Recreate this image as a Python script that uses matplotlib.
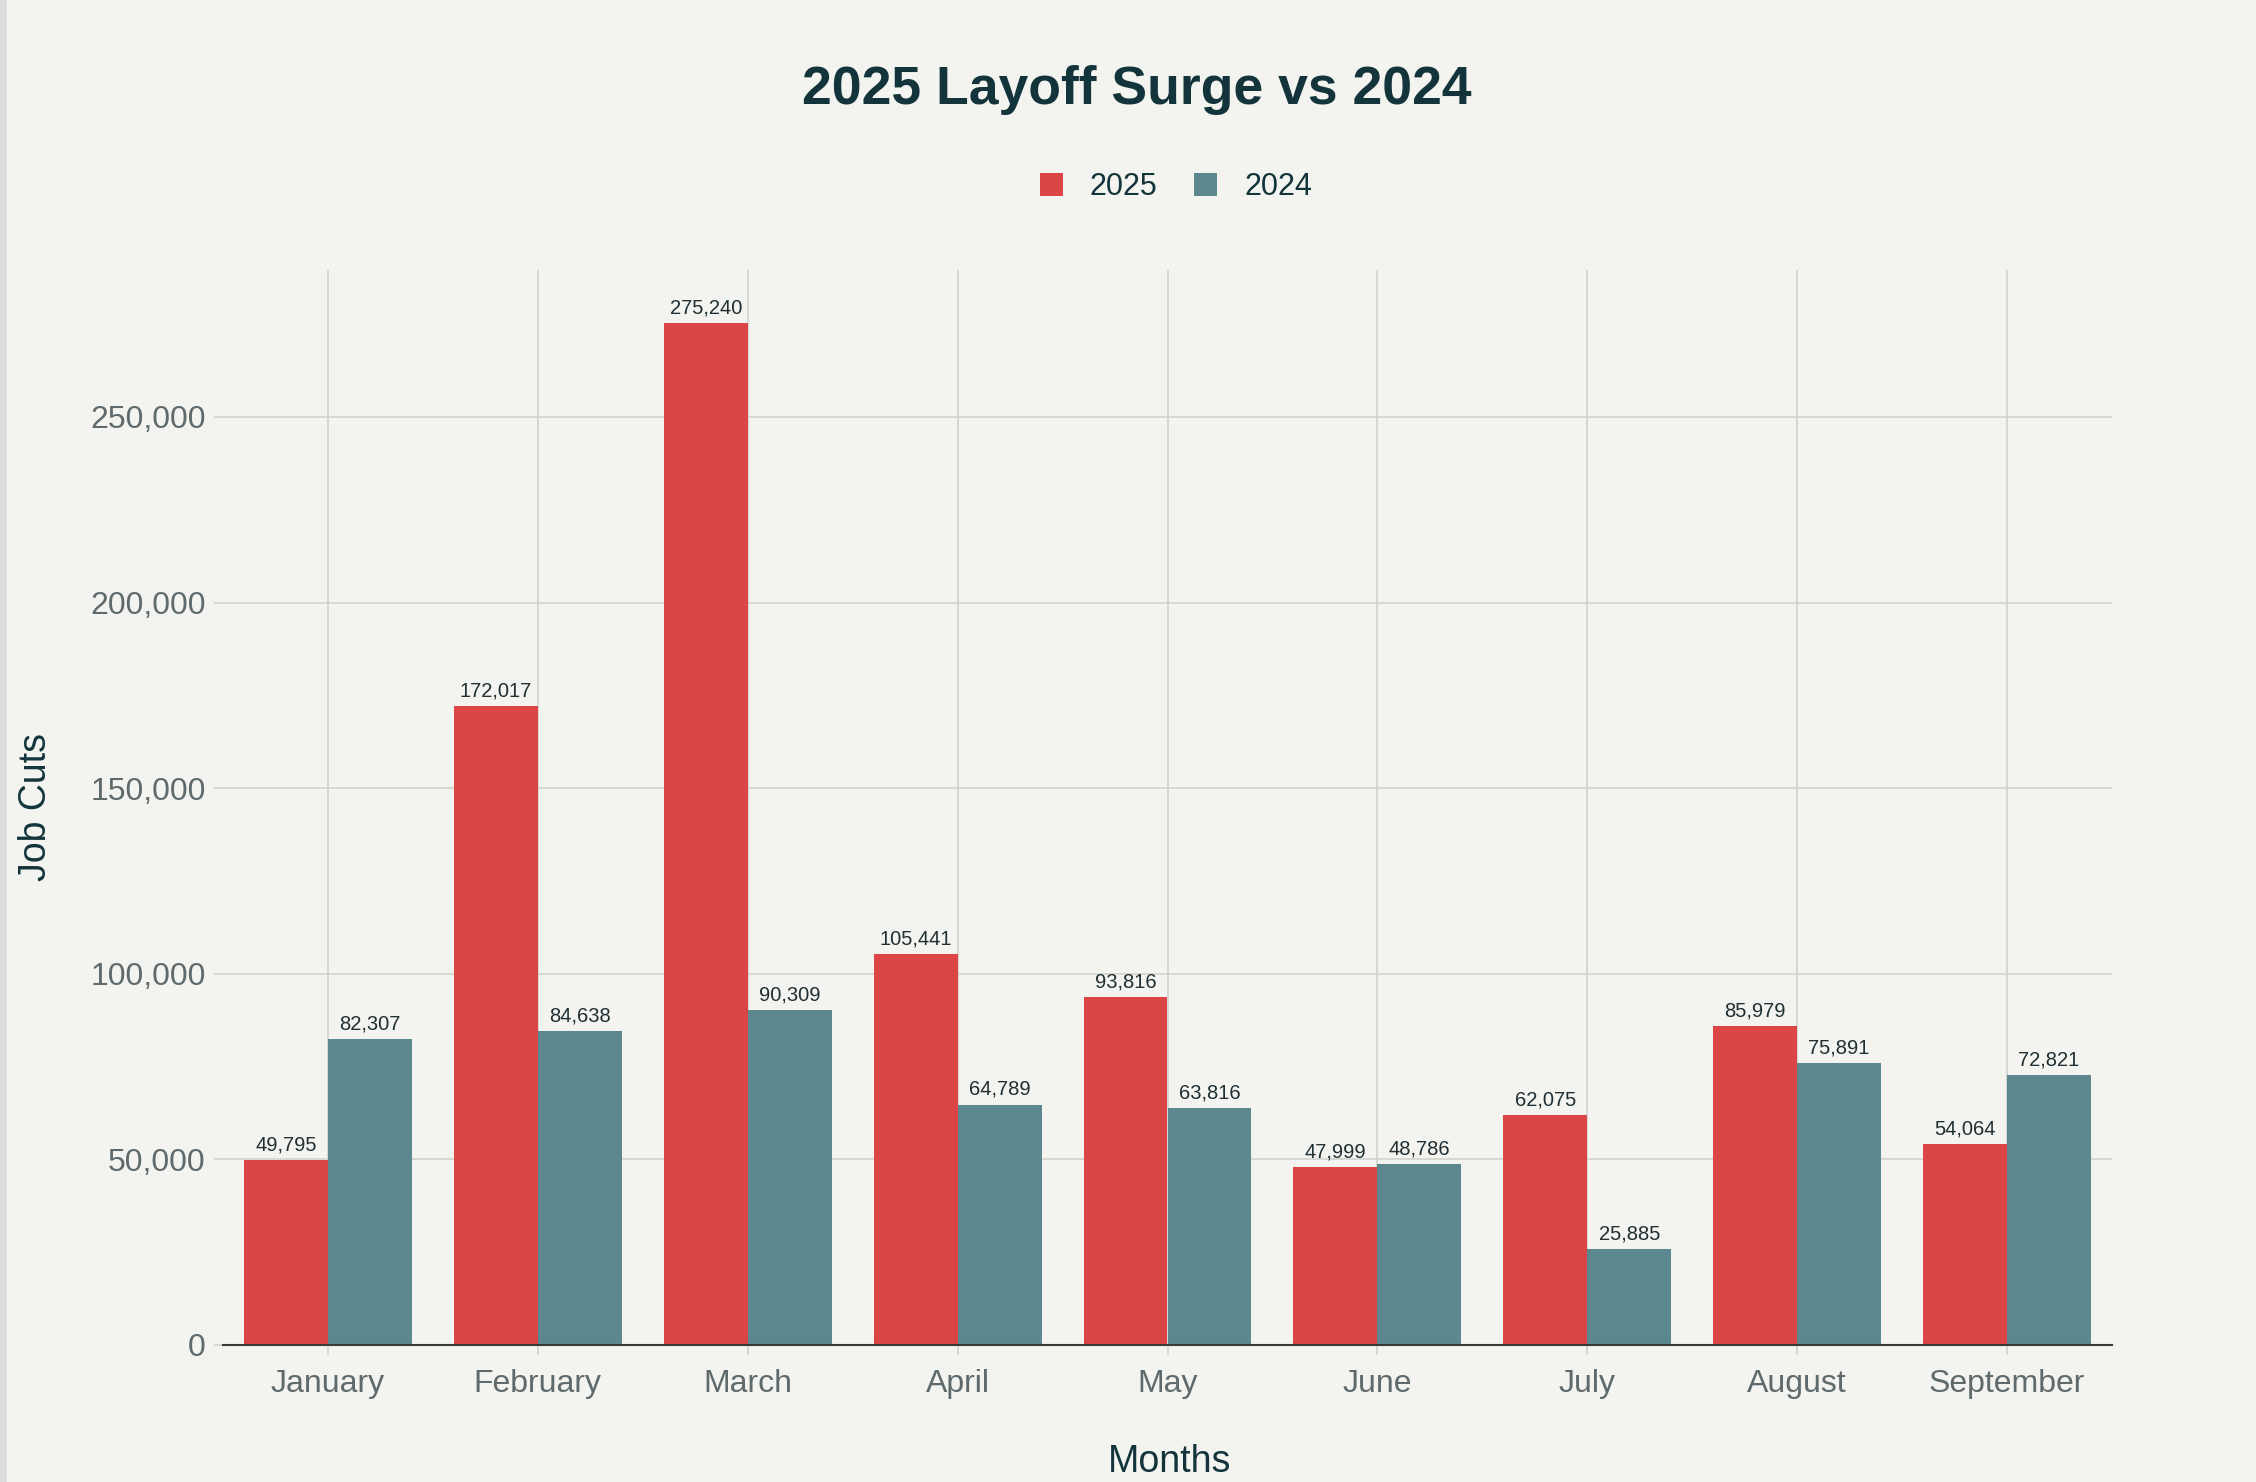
import matplotlib
matplotlib.use("Agg")
import matplotlib.pyplot as plt
import numpy as np
from matplotlib.patches import Rectangle

months = ["January", "February", "March", "April", "May", "June", "July", "August", "September"]
cuts_2025 = [49795, 172017, 275240, 105441, 93816, 47999, 62075, 85979, 54064]
cuts_2024 = [82307, 84638, 90309, 64789, 63816, 48786, 25885, 75891, 72821]
series_names = ["2025", "2024"]
yticks = [0, 50000, 100000, 150000, 200000, 250000]

BG = "#f3f3ef"
RED = "#db4545"
TEAL = "#5d878f"
DARK = "#13343b"
TICKC = "#5f6a6d"
GRID = "#d3d3ce"

plt.rcParams["font.family"] = ["Liberation Sans", "DejaVu Sans"]

fig = plt.figure(figsize=(22.56, 14.82), dpi=100, facecolor=BG)
W, H = 2256, 1482
left, right, top, bottom = 223, 2112, 270, 1345
ax = fig.add_axes([left / W, 1 - bottom / H, (right - left) / W, (bottom - top) / H])
ax.set_facecolor(BG)

# left grey strip
fig.patches.append(Rectangle((0, 0), 7 / W, 1, transform=fig.transFigure,
                             facecolor="#dcdcdc", edgecolor="none", zorder=0))

x = np.arange(len(months))
bw = 0.4
b1 = ax.bar(x - bw / 2, cuts_2025, width=bw, color=RED, label=series_names[0], zorder=3)
b2 = ax.bar(x + bw / 2, cuts_2024, width=bw, color=TEAL, label=series_names[1], zorder=3)

for bars, vals in ((b1, cuts_2025), (b2, cuts_2024)):
    for rect, v in zip(bars, vals):
        ax.annotate(f"{v:,}", (rect.get_x() + rect.get_width() / 2, v),
                    xytext=(0, 4), textcoords="offset points",
                    ha="center", va="bottom", fontsize=14.5, color="#1f2f33", zorder=4)

ax.set_xlim(-0.5, len(months) - 0.5)
ax.set_ylim(0, 289600)
ax.set_xticks(x)
ax.set_xticklabels(months)
ax.set_yticks(yticks)
ax.set_yticklabels([f"{t:,}" for t in yticks])

ax.grid(True, color=GRID, linewidth=1.2, zorder=0)
ax.set_axisbelow(True)
for s in ("top", "right", "left"):
    ax.spines[s].set_visible(False)
ax.spines["bottom"].set_color("#3a3a3a")
ax.spines["bottom"].set_linewidth(1.5)
ax.spines["bottom"].set_zorder(5)

ax.tick_params(axis="y", length=6.5, width=1.2, color=GRID, pad=6, labelsize=23, labelcolor=TICKC)
ax.tick_params(axis="x", length=7, width=1.2, color=GRID, pad=10.5, labelsize=23, labelcolor=TICKC)

fig.text(1137 / W, 1 - 90 / H, "2025 Layoff Surge vs 2024", ha="center", va="center",
         fontsize=38.5, fontweight="bold", color=DARK)
fig.text(36 / W, 1 - 807 / H, "Job Cuts", rotation=90, ha="center", va="center",
         fontsize=27, color=DARK)
fig.text(1170 / W, 1 - 1462 / H, "Months", ha="center", va="center",
         fontsize=27, color=DARK)

leg = ax.legend(loc="center", bbox_to_anchor=(1176 / W, 1 - 187 / H), bbox_transform=fig.transFigure,
                ncol=2, frameon=False, fontsize=22, handlelength=0.75, handleheight=0.75,
                handletextpad=0.88, columnspacing=1.2, borderaxespad=0)
for t in leg.get_texts():
    t.set_color(DARK)

fig.savefig("out.png", dpi=100, facecolor=BG)
